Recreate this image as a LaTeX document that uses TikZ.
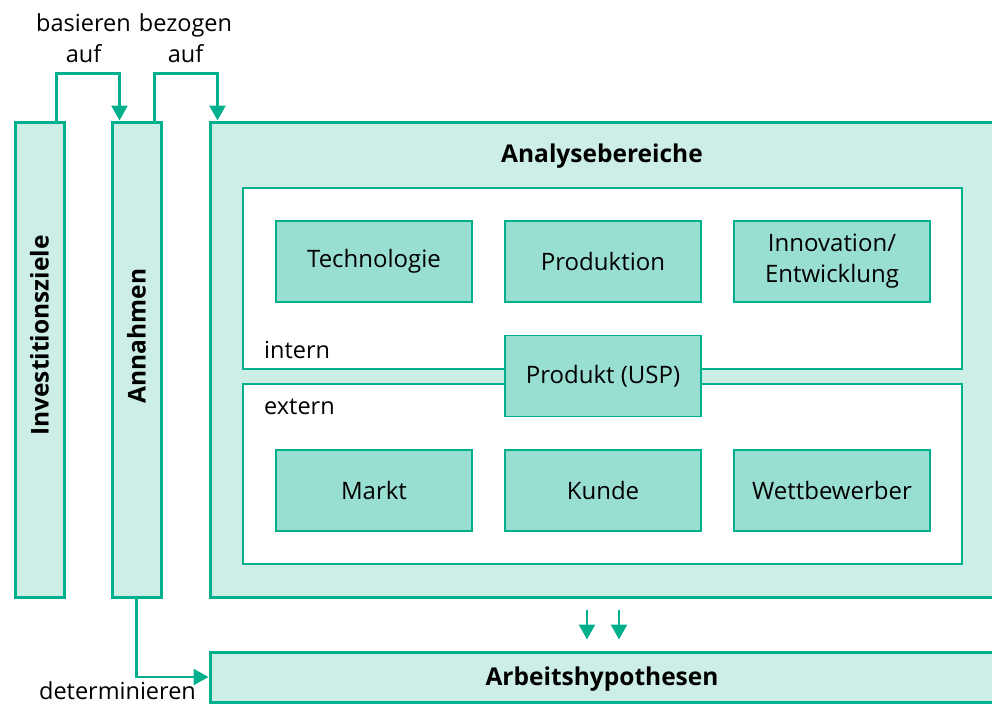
\documentclass[tikz,border=0pt]{standalone}
\usepackage{fontspec}
\setmainfont{Open Sans}
\usetikzlibrary{positioning, arrows.meta}

\definecolor{tealline}{HTML}{00B08C}
\definecolor{lightfill}{HTML}{CCEEE6}
\definecolor{midfill}{HTML}{99DFD1}

\tikzset{
  outer/.style={draw=tealline, line width=3pt, fill=lightfill, inner sep=0pt},
  area/.style={draw=tealline, line width=1.6pt, fill=white, inner sep=0pt},
  field/.style={draw=tealline, line width=1.6pt, fill=midfill, inner sep=0pt,
    minimum width=196pt, minimum height=81pt, align=center,
    font=\fontsize{24}{31}\selectfont},
  head/.style={font=\fontsize{24.5}{30}\selectfont\bfseries},
  lbl/.style={font=\fontsize{23.5}{31}\selectfont, align=center, inner sep=0pt},
  link/.style={draw=tealline, line width=2.6pt, -{Triangle[length=15pt,width=16pt]}}
}

\begin{document}
\begin{tikzpicture}[x=1pt, y=-1pt]
                \useasboundingbox (0,0) rectangle (992,704);

                % outer boxes
                \node[outer, minimum width=49pt, minimum height=475pt] (ziele) at (39.5,359.5) {};
                \node[outer, minimum width=49pt, minimum height=475pt] (annahmen) at (136.5,359.5) {};
                \node[outer, minimum width=785pt, minimum height=475pt] (analyse) at (602.5,359.5) {};
                \node[outer, minimum width=785pt, minimum height=50pt] (hypo) at (602.5,677) {};

                \node[head, rotate=90] (zieletext) at (39.5,335.5) {Investitionsziele};
                \node[head, rotate=90] (annahmentext) at (136.5,336) {Annahmen};
                \node[head] (analysetext) at (602,156) {Analysebereiche};
                \node[head] (hypotext) at (602,679) {Arbeitshypothesen};

                % intern / extern
                \node[area, minimum width=719pt, minimum height=181pt] (intern) at (602.5,278.5) {};
                \node[area, minimum width=719pt, minimum height=180pt] (extern) at (602.5,474) {};
                \node[lbl, anchor=west] (interntext) at (264,350) {intern};
                \node[lbl, anchor=west] (externtext) at (264,407) {extern};

                \node[field] (tech) at (374,261.5) {Technologie};
                \node[field] (prod) at (603,261.5) {Produktion};
                \node[field] (inno) at (832,261.5) {Innovation/\\Entwicklung};
                \node[field] (usp) at (603,376) {Produkt (USP)};
                \node[field] (markt) at (374,490.5) {Markt};
                \node[field] (kunde) at (603,490.5) {Kunde};
                \node[field] (wett) at (832,490.5) {Wettbewerber};

                % connectors
                \draw[link] ([xshift=-9pt]ziele.north east) -- ++(0,-47) -| ([xshift=9pt]annahmen.north west);
                \draw[link] ([xshift=-8pt]annahmen.north east) -- ++(0,-47) -| ([xshift=9pt]analyse.north west);
                \draw[link] (annahmen.south) |- (hypo.west);
                \draw[link] ([xshift=-15.5pt, yshift=-11pt]analyse.south) -- ([xshift=-15.5pt, yshift=11pt]hypo.north);
                \draw[link] ([xshift=16.5pt, yshift=-11pt]analyse.south) -- ([xshift=16.5pt, yshift=11pt]hypo.north);

                \node[lbl] (basieren) at (83.5,38) {basieren\\auf};
                \node[lbl] (bezogen) at (185.5,38) {bezogen\\auf};
                \node[lbl] (determ) at (117.5,691) {determinieren};
            \end{tikzpicture}
\end{document}
